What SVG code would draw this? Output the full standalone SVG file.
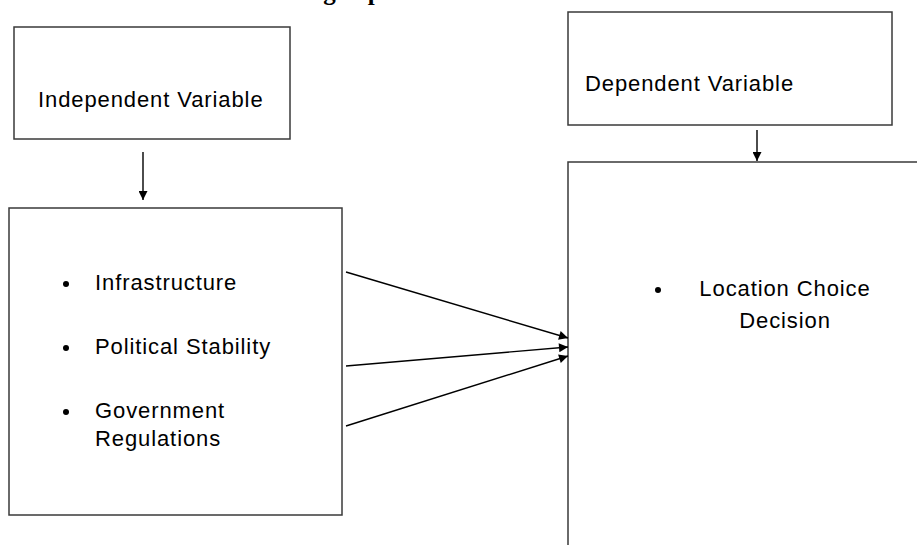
<svg xmlns="http://www.w3.org/2000/svg" width="917" height="545" viewBox="0 0 917 545">
<defs>
<style>
.box{fill:#fff;stroke:#3a3a3a;stroke-width:1.5}
.t{font-family:"Liberation Sans",Arial,sans-serif;font-size:22px;letter-spacing:0.9px;fill:#000}
.c{stroke:#000;stroke-width:1.4;fill:none;marker-end:url(#ah)}
</style>
<marker id="ah" viewBox="0 0 10 10" refX="10" refY="5" markerWidth="12" markerHeight="9" markerUnits="userSpaceOnUse" orient="auto">
<path d="M0,0 L10,5 L0,10 z" fill="#000"/>
</marker>
</defs>
<rect width="917" height="545" fill="#fff"/>
<text x="301" y="0" font-family="Liberation Serif,serif" font-weight="bold" font-size="25" fill="#000">Fig. Operational Framework</text>
<g id="independent">
<rect class="box" x="14" y="27" width="276" height="112"/>
<text class="t" x="38" y="107">Independent Variable</text>
</g>
<g id="factors">
<rect class="box" x="9" y="208" width="333" height="307"/>
<circle cx="66" cy="284" r="3"/>
<text class="t" x="95" y="290">Infrastructure</text>
<circle cx="66" cy="348" r="3"/>
<text class="t" x="95" y="354">Political Stability</text>
<circle cx="66" cy="412" r="3"/>
<text class="t" x="95" y="418">Government</text>
<text class="t" x="95" y="446">Regulations</text>
</g>
<g id="dependent">
<rect class="box" x="568" y="12" width="324" height="113"/>
<text class="t" x="585" y="91">Dependent Variable</text>
</g>
<g id="decision">
<rect class="box" x="568" y="162" width="360" height="400"/>
<circle cx="658" cy="290" r="3"/>
<text class="t" x="785" y="296" text-anchor="middle">Location Choice</text>
<text class="t" x="785" y="328" text-anchor="middle">Decision</text>
</g>
<g id="connectors">
<line class="c" x1="143" y1="152" x2="143" y2="200"/>
<line class="c" x1="757" y1="130" x2="757" y2="161"/>
<line class="c" x1="346" y1="272" x2="568" y2="338"/>
<line class="c" x1="346" y1="366" x2="568" y2="347"/>
<line class="c" x1="346" y1="426" x2="568" y2="356"/>
</g>
</svg>
